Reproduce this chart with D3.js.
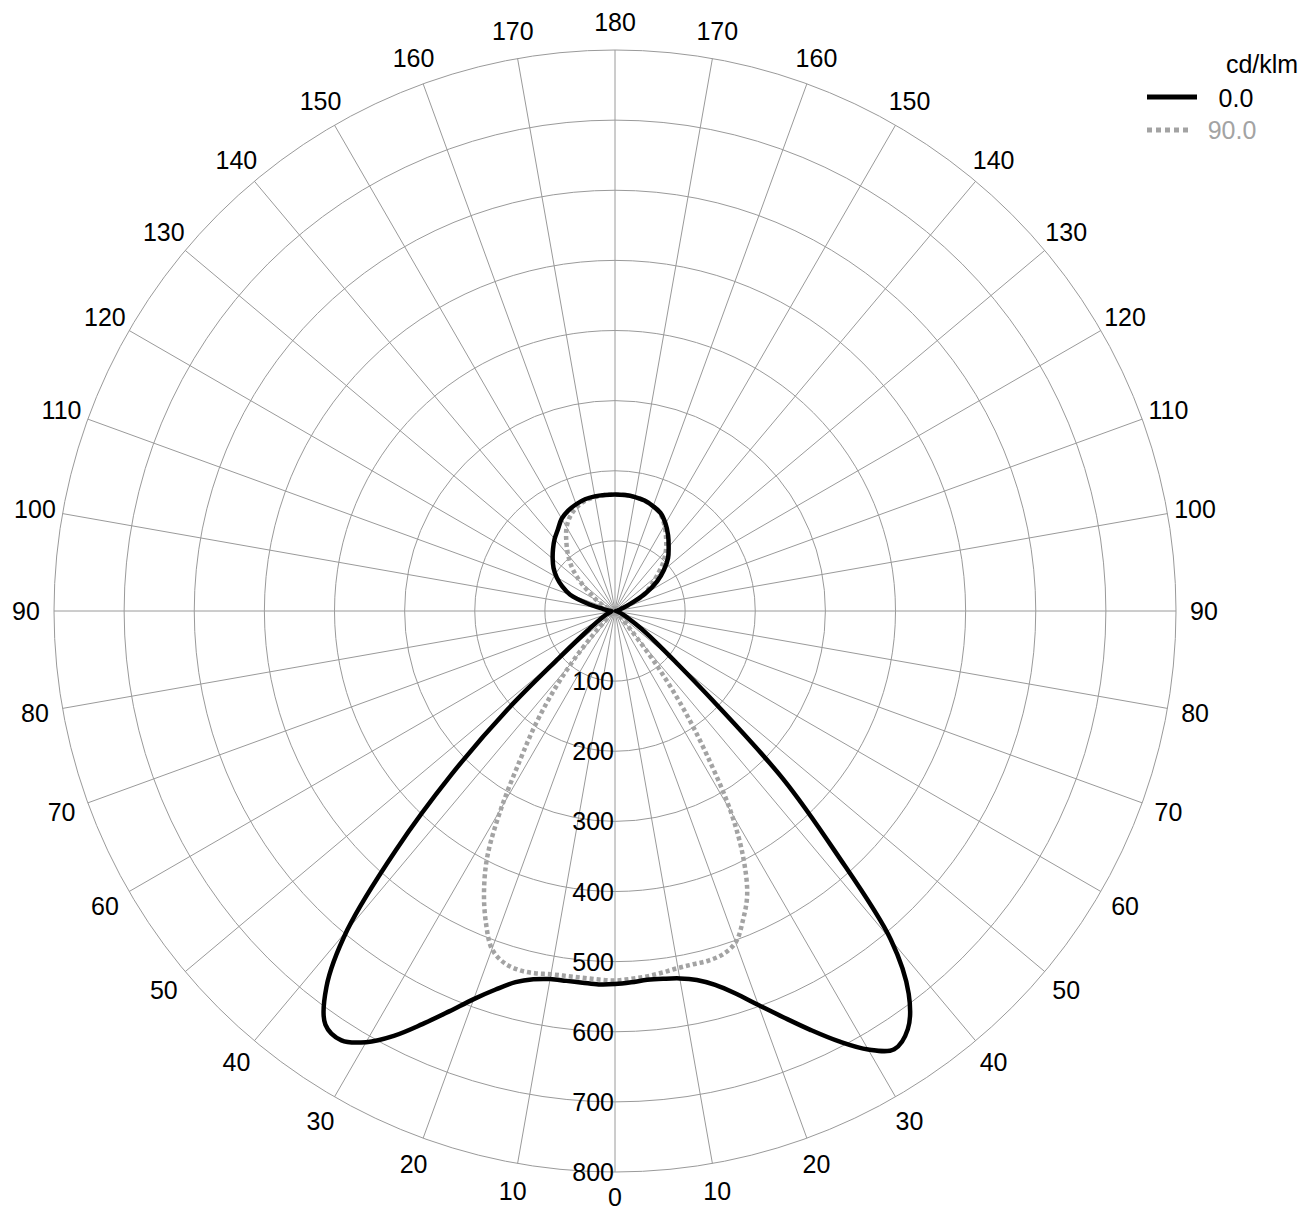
<!DOCTYPE html>
<html><head><meta charset="utf-8">
<script src="https://cdn.jsdelivr.net/npm/d3@7"></script>
<style>
body{margin:0;background:#fff}
text{font-family:"Liberation Sans",Arial,Helvetica,sans-serif}
</style>
</head><body>
<svg id="chart" width="1312" height="1212"></svg>
<script>
// Gamma angles (degrees, 0 = straight down, 180 = straight up)
const gammaAngles = [0,2.5,5,7.5,10,12.5,15,17.5,20,22.5,25,27.5,30,32.5,35,37.5,40,42.5,45,47.5,50,52.5,55,57.5,60,
  65,70,75,80,85,90,95,100,105,110,115,120,125,130,135,140,145,150,155,160,165,170,175,180];

// C0 plane (black, right half) cd/klm
const c0Values = [532,530,528,529,532,539,552,572,598,627,659,692,722,741,728,688,612,463,340,190,112,75,52,36,25,
  14,8,5,3,2,1,2,4,6,11,24,50,73,91,107,119,132,144,154,159,163,165,166,166];
// C180 plane (black, left half)
const c180Values = [533,533,532,532,533,538,548,566,589,618,650,683,710,726,720,676,594,463,330,207,105,65,45,34,26,
  17,11,8,6,5,5,10,18,40,68,83,96,107,116,125,134,142,152,158,162,165,166,166,166];
// C90 plane (grey dotted, right half)
const c90Values = [527,525,523,520,517,516,516,513,503,477,446,396,330,245,170,98,35,15,9,6,5,4,3,3,2,
  2,1,1,1,1,1,2,5,8,15,30,48,62,78,97,113,127,141,153,159,163,165,166,166];
// C270 plane (grey dotted, left half)
const c270Values = [526,526,525,525,526,529,530,526,513,481,442,394,324,252,198,145,94,48,20,12,8,6,5,4,4,
  3,2,1,1,1,1,2,4,7,11,18,29,42,64,86,104,121,138,150,158,163,165,166,166];

const ringValues = [100,200,300,400,500,600,700,800];
const spokeAngles = d3.range(0, 360, 10);
const sideLabels = d3.range(0, 190, 10);
const seriesNames = ["0.0", "90.0"];
const unitLabel = "cd/klm";

const cx = 615, cy = 611, R = 561;
const svg = d3.select("#chart");
const r = d3.scaleLinear().domain([0, 800]).range([0, R]);
const toRad = d => d * Math.PI / 180;
const FS = 25;

const g = svg.append("g").attr("transform", `translate(${cx},${cy})`);
const gridColor = "#9a9a9a";

// rings
g.selectAll("circle.ring").data(ringValues).join("circle")
  .attr("r", d => r(d)).attr("fill", "none")
  .attr("stroke", gridColor).attr("stroke-width", 1);

// spokes (angle measured clockwise from up in screen)
g.selectAll("line.spoke").data(spokeAngles).join("line")
  .attr("x1", 0).attr("y1", 0)
  .attr("x2", d => R * Math.sin(toRad(d)))
  .attr("y2", d => -R * Math.cos(toRad(d)))
  .attr("stroke", gridColor).attr("stroke-width", 1);

// angle labels on both sides
const labR = 589;
const labelData = [];
sideLabels.forEach(gm => {
  labelData.push({gm, a: 180 - gm});
  if (gm !== 0 && gm !== 180) labelData.push({gm, a: 180 + gm});
});
g.selectAll("text.ang").data(labelData).join("text")
  .attr("x", d => labR * Math.sin(toRad(d.a)))
  .attr("y", d => -labR * Math.cos(toRad(d.a)) - (d.gm === 0 ? 3 : 0))
  .attr("text-anchor", "middle").attr("dominant-baseline", "central")
  .attr("font-size", FS).attr("fill", "#000")
  .text(d => d.gm);

// build closed curves: right half angle = 180 - gamma, left half angle = 180 + gamma
function planePoints(rightVals, leftVals) {
  const pts = [];
  for (let i = gammaAngles.length - 1; i >= 0; i--) pts.push([toRad(180 - gammaAngles[i]), r(rightVals[i])]);
  for (let i = 1; i < gammaAngles.length - 1; i++) pts.push([toRad(180 + gammaAngles[i]), r(leftVals[i])]);
  return pts;
}
const radial = d3.lineRadial().angle(d => d[0]).radius(d => d[1]).curve(d3.curveCatmullRomClosed.alpha(0.5));

g.append("path").attr("d", radial(planePoints(c90Values, c270Values)))
  .attr("fill", "none").attr("stroke", "#a3a3a3").attr("stroke-width", 4.5)
  .attr("stroke-dasharray", "4,3");
g.append("path").attr("d", radial(planePoints(c0Values, c180Values)))
  .attr("fill", "none").attr("stroke", "#000").attr("stroke-width", 4.5)
  .attr("stroke-linejoin", "round");

// ring labels along bottom axis
g.selectAll("text.ringlab").data(ringValues).join("text")
  .attr("x", -1).attr("y", d => r(d))
  .attr("text-anchor", "end").attr("dominant-baseline", "central")
  .attr("font-size", FS).attr("fill", "#000")
  .text(d => d);

// legend
const lg = svg.append("g");
lg.append("text").attr("x", 1262).attr("y", 64).attr("text-anchor", "middle")
  .attr("dominant-baseline", "central").attr("font-size", FS).text(unitLabel);
lg.append("line").attr("x1", 1147).attr("x2", 1197).attr("y1", 97).attr("y2", 97)
  .attr("stroke", "#000").attr("stroke-width", 5);
lg.append("text").attr("x", 1236).attr("y", 98).attr("text-anchor", "middle")
  .attr("dominant-baseline", "central").attr("font-size", FS).attr("fill", "#000").text(seriesNames[0]);
lg.append("line").attr("x1", 1147).attr("x2", 1188).attr("y1", 130).attr("y2", 130)
  .attr("stroke", "#a3a3a3").attr("stroke-width", 5).attr("stroke-dasharray", "5,4");
lg.append("text").attr("x", 1232).attr("y", 130).attr("text-anchor", "middle")
  .attr("dominant-baseline", "central").attr("font-size", FS).attr("fill", "#a3a3a3").text(seriesNames[1]);
</script>
</body></html>
